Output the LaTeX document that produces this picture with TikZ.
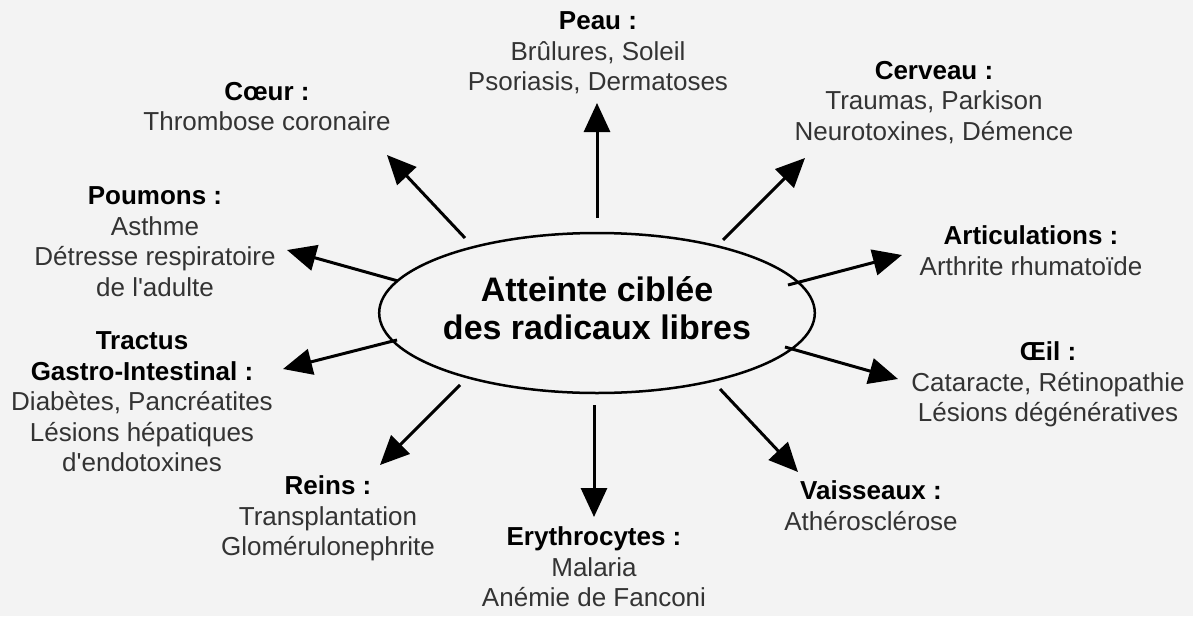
\documentclass[tikz,border=0pt]{standalone}
\usepackage{fontspec}
\setmainfont{Liberation Sans}
\usetikzlibrary{arrows.meta,shapes.geometric}
\definecolor{bg}{HTML}{F3F3F3}
\definecolor{txt}{HTML}{333333}
\tikzset{
  lbl/.style={anchor=north, align=center, inner sep=0pt, text=txt,
    font=\fontsize{26}{30.5}\selectfont, execute at begin node=\strut},
  arr/.style={line width=3pt, -{Triangle[length=29pt,width=26pt]}},
  centre/.style={ellipse, draw, line width=2.5pt, minimum width=390pt, minimum height=160pt,
    inner sep=0pt, align=center, font=\fontsize{34}{38}\selectfont\bfseries}
}
\newcommand{\ttlb}[1]{{\color{black}\bfseries #1}}
\begin{document}
\begin{tikzpicture}[x=1pt,y=-1pt]
\fill[bg] (0,0) rectangle (1193,616);
\useasboundingbox (0,0) rectangle (1193,616);

\node[centre] (c) at (597,313) {\strut Atteinte ciblée\\des radicaux libres\strut};

\node[lbl] (peau) at (598,11.7) {\ttlb{Peau :}\\Brûlures, Soleil\\Psoriasis, Dermatoses};
\node[lbl] (cerveau) at (934,60.7) {\ttlb{Cerveau :}\\Traumas, Parkison\\Neurotoxines, Démence};
\node[lbl] (artic) at (1031,225.7) {\ttlb{Articulations :}\\Arthrite rhumatoïde};
\node[lbl] (oeil) at (1048,341.7) {\ttlb{Œil :}\\Cataracte, Rétinopathie\\Lésions dégénératives};
\node[lbl] (vaiss) at (871,480.7) {\ttlb{Vaisseaux :}\\Athérosclérose};
\node[lbl] (erythro) at (594,526.7) {\ttlb{Erythrocytes :}\\Malaria\\Anémie de Fanconi};
\node[lbl] (reins) at (328,475.7) {\ttlb{Reins :}\\Transplantation\\Glomérulonephrite};
\node[lbl] (tractus) at (142,331.7) {\ttlb{Tractus}\\\ttlb{Gastro-Intestinal :}\\Diabètes, Pancréatites\\Lésions hépatiques\\d\textquotesingle endotoxines};
\node[lbl] (poumons) at (155,186.7) {\ttlb{Poumons :}\\Asthme\\Détresse respiratoire\\de l\textquotesingle adulte};
\node[lbl] (coeur) at (267,81.7) {\ttlb{Cœur :}\\Thrombose coronaire};

% arrow end points
\coordinate (s1) at (597,218);  \coordinate (t1) at (597,103);
\coordinate (s2) at (723,240);  \coordinate (t2) at (805,158);
\coordinate (s3) at (788,285);  \coordinate (t3) at (902,255);
\coordinate (s4) at (785,347);  \coordinate (t4) at (898,379);
\coordinate (s5) at (720,389);  \coordinate (t5) at (798,472);
\coordinate (s6) at (594,405);  \coordinate (t6) at (594,517);
\coordinate (s7) at (460,385);  \coordinate (t7) at (380,465);
\coordinate (s8) at (397,340);  \coordinate (t8) at (283,369);
\coordinate (s9) at (398,281);  \coordinate (t9) at (287,250);
\coordinate (s10) at (465,238); \coordinate (t10) at (387,155);

\foreach \i in {1,...,10} { \draw[arr] (s\i) -- (t\i); }
\end{tikzpicture}
\end{document}
